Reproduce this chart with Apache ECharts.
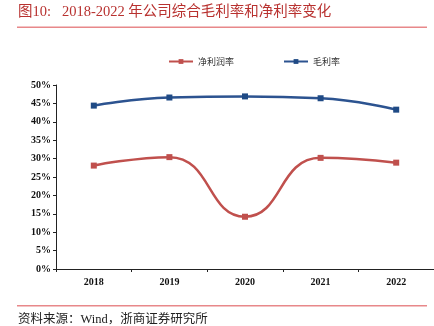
<!DOCTYPE html>
<html><head><meta charset="utf-8">
<script src="https://cdn.jsdelivr.net/npm/echarts@6/dist/echarts.min.js"></script>
<style>html,body{margin:0;padding:0;background:#fff}#c{width:434px;height:326px}</style>
</head><body><div id="c"></div>
<script>
const categories = ['2018','2019','2020','2021','2022'];
const netMargin = [28.1, 30.4, 14.2, 30.2, 28.9];
const grossMargin = [44.4, 46.6, 46.9, 46.4, 43.3];
const seriesNames = ['净利润率','毛利率'];
const titleText = '图10:   2018-2022 年公司综合毛利率和净利率变化';
const sourceText = '资料来源：Wind，浙商证券研究所';

const chart = echarts.init(document.getElementById('c'));
const serif = '"Liberation Serif","Noto Sans CJK SC",serif';
chart.setOption({
  animation:false,
  grid:{left:56, top:85, width:380, height:184, containLabel:false},
  legend:{
    data:seriesNames, top:52, left:163, itemGap:49, itemWidth:24, itemHeight:6,
    textStyle:{fontFamily:'"Noto Sans CJK SC",sans-serif', fontSize:9, color:'#333'}
  },
  xAxis:{
    type:'category', data:categories, boundaryGap:true,
    axisLine:{lineStyle:{color:'#222', width:1}},
    axisTick:{show:true, lineStyle:{color:'#222'}, length:3},
    axisLabel:{fontFamily:serif, fontWeight:'bold', fontSize:10, color:'#111', margin:8}
  },
  yAxis:{
    type:'value', min:0, max:50, interval:5,
    splitLine:{show:false},
    axisLine:{show:true, lineStyle:{color:'#222', width:1}},
    axisTick:{show:true, lineStyle:{color:'#222'}, length:3},
    axisLabel:{formatter:'{value}%', fontFamily:serif, fontWeight:'bold', fontSize:10, color:'#111', margin:5}
  },
  series:[
    {name:seriesNames[0], type:'line', data:netMargin, smooth:0.5, symbol:'rect', symbolSize:6,
     lineStyle:{color:'#c0504d', width:2.5}, itemStyle:{color:'#c0504d'}},
    {name:seriesNames[1], type:'line', data:grossMargin, smooth:0.5, symbol:'rect', symbolSize:6,
     lineStyle:{color:'#2c5390', width:2.5}, itemStyle:{color:'#1f4a85'}}
  ],
  graphic:[
    {type:'text', left:18, top:5, style:{text:titleText, font:'14.5px '+serif, fill:'#b8312f'}},
    {type:'rect', shape:{x:17, y:26.5, width:410, height:1.5}, style:{fill:'#e8888a'}},
    {type:'rect', shape:{x:17, y:305, width:410, height:1.5}, style:{fill:'#e8888a'}},
    {type:'text', left:18, top:313, style:{text:sourceText, font:'12.5px '+serif, fill:'#222'}}
  ]
});
</script></body></html>
